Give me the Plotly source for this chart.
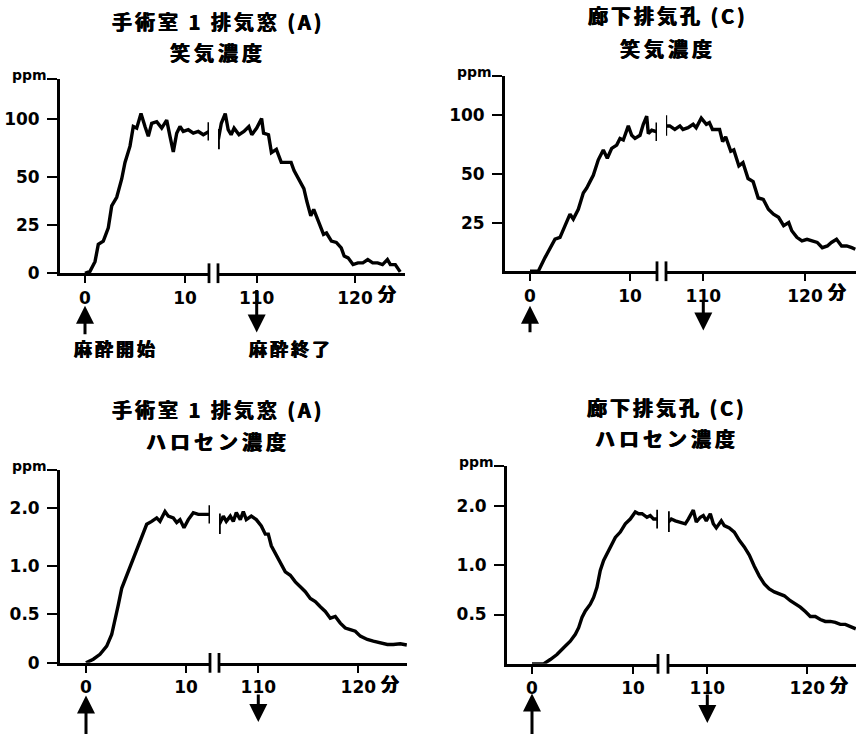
import numpy as np
import plotly.graph_objects as go

W, H = 856, 736

# ---------------- data (minutes, concentration) ----------------
# 手術室1排気窓(A) 笑気濃度 (ppm)
A_N2O_T1 = [0, 0.5, 1.0, 1.33, 1.83, 2.33, 2.67, 3.17, 3.67, 4.0, 4.5, 4.83, 5.17, 5.6, 6.0,
            6.33, 6.67, 7.17, 7.67, 8.17, 8.5, 8.83, 9.17, 9.5, 9.83, 10.33, 10.83, 11.33, 11.83, 12.4]
A_N2O_V1 = [0, 1, 6, 15, 16.7, 23.6, 35, 39.5, 49, 62.7, 76.8, 93.8, 92.4, 105, 93.8,
            85.3, 96.6, 98, 92.4, 99.4, 85.3, 71.8, 88, 93.8, 89.5, 91, 88, 89.5, 86.7, 89.5]
A_N2O_T2 = [106.1, 106.4, 106.8, 107.1, 107.4, 107.7, 108.2, 108.7, 109.2, 109.5, 110.0, 110.5,
            110.7, 111.2, 111.5, 112.0, 112.5, 113.0, 113.5, 113.8, 114.3, 114.8, 115.1, 115.5,
            115.8, 116.3, 116.8, 117.1, 117.6, 118.1, 118.6, 118.9, 119.3, 119.8, 120.3, 120.8,
            121.3, 121.8, 122.3, 122.8, 123.3, 123.6, 124.1, 124.6]
A_N2O_V2 = [82.5, 96.6, 105, 91, 86.7, 92.4, 86.7, 89.5, 93.8, 86.7, 92.4, 100.8,
            88, 86.7, 71.2, 74, 62.7, 62.7, 62.7, 55.7, 49, 44, 37.4, 29.9,
            33.2, 27, 20.2, 20.9, 16.7, 16, 13.2, 8.9, 8, 4.5, 5.4, 5.4,
            7.1, 5.4, 5.4, 4.5, 7.1, 4.5, 4.5, 0.7]

# 廊下排気孔(C) 笑気濃度 (ppm)
C_N2O_T1 = [0, 0.83, 1.5, 2.0, 2.5, 3.0, 3.5, 4.0, 4.33, 4.83, 5.33, 5.67, 6.0, 6.33, 6.83,
            7.33, 7.73, 8.17, 8.67, 9.0, 9.33, 9.83, 10.17, 10.5, 11.0, 11.33, 11.67, 11.83,
            12.17, 12.7]
C_N2O_V1 = [0, 0, 7, 12, 16.5, 17.4, 23.4, 29.3, 26.8, 31.8, 40.2, 42.7, 46, 49.3, 62,
            70.5, 63.4, 71.8, 74.6, 80.3, 79, 91, 83, 80.3, 83, 92.4, 99.4, 84.4,
            87.3, 86]
C_N2O_T2 = [106.3, 106.7, 107.2, 107.7, 108.0, 108.5, 109.0, 109.3, 109.8, 110.3, 110.6, 110.9,
            111.6, 111.9, 112.2, 112.7, 113.0, 113.5, 113.9, 114.4, 114.9, 115.4, 115.9, 116.4,
            116.9, 117.4, 117.9, 118.4, 118.7, 119.2, 119.7, 120.2, 120.7, 121.2, 121.7, 122.2,
            122.6, 123.1, 123.6, 124.1, 124.6, 124.95]
C_N2O_V2 = [91, 91, 88, 91, 88, 89.5, 92.4, 89.5, 97.7, 92.4, 93.8, 88,
            88, 77.5, 81.7, 69.3, 70.5, 56.8, 59.6, 47.6, 46, 37.6, 36.9, 31.8,
            29.3, 27.7, 23.4, 25, 20.8, 17.4, 15.6, 16.4, 15.6, 14.8, 12.1, 13,
            14.8, 16.4, 13, 13, 12.1, 11.3]

# 手術室1排気窓(A) ハロセン濃度 (ppm)
A_HAL_T1 = [0, 0.73, 1.4, 2.07, 2.57, 2.9, 3.23, 3.57, 4.07, 4.57, 5.07, 5.57, 6.07, 6.57,
            7.07, 7.4, 7.9, 8.23, 8.73, 9.07, 9.4, 9.8, 10.23, 10.73, 11.23, 11.73, 12.4]
A_HAL_V1 = [0, 0.038, 0.089, 0.173, 0.293, 0.43, 0.6, 0.77, 0.905, 1.068, 1.27, 1.52, 1.72, 1.77,
            1.83, 1.77, 1.94, 1.86, 1.83, 1.75, 1.8, 1.66, 1.8, 1.92, 1.89, 1.89, 1.89]
A_HAL_T2 = [106.1, 106.5, 106.8, 107.2, 107.5, 107.8, 108.2, 108.5, 108.8, 109.3, 109.8, 110.3,
            110.7, 111.0, 111.3, 111.8, 112.2, 112.7, 113.2, 113.7, 114.2, 114.7, 115.2, 115.7,
            116.2, 116.7, 117.2, 117.7, 118.2, 118.7, 119.2, 119.7, 120.2, 120.9, 121.5, 122.2,
            122.9, 123.5, 124.2, 124.85]
A_HAL_V2 = [1.72, 1.86, 1.77, 1.86, 1.77, 1.92, 1.8, 1.94, 1.8, 1.86, 1.8, 1.69,
            1.55, 1.55, 1.35, 1.18, 1.07, 0.94, 0.905, 0.837, 0.786, 0.735, 0.666, 0.633,
            0.58, 0.531, 0.462, 0.48, 0.411, 0.36, 0.343, 0.327, 0.276, 0.242, 0.224, 0.207,
            0.19, 0.19, 0.197, 0.185]

# 廊下排気孔(C) ハロセン濃度 (ppm)
C_HAL_T1 = [0, 1.15, 1.81, 2.47, 3.13, 3.79, 4.29, 4.62, 4.95, 5.28, 5.77, 6.1, 6.43, 6.76,
            7.09, 7.42, 7.75, 8.25, 8.74, 9.24, 9.73, 10.23, 10.56, 10.9, 11.38, 11.71, 12.04, 12.45]
C_HAL_V1 = [0, 0, 0.044, 0.095, 0.163, 0.23, 0.3, 0.367, 0.47, 0.537, 0.605, 0.673, 0.776, 0.946,
            1.08, 1.19, 1.33, 1.47, 1.56, 1.7, 1.78, 1.9, 1.87, 1.87, 1.81, 1.84, 1.78, 1.78]
C_HAL_T2 = [106.1, 106.4, 106.8, 107.3, 107.8, 108.1, 108.6, 108.9, 109.3, 109.6, 109.9, 110.3,
            110.6, 110.9, 111.4, 111.7, 112.2, 112.7, 113.2, 113.7, 114.2, 114.7, 115.2, 115.7,
            116.2, 116.7, 117.2, 117.7, 118.3, 118.8, 119.3, 119.8, 120.3, 120.8, 121.3, 121.8,
            122.3, 122.8, 123.3, 123.8, 124.3, 124.85]
C_HAL_V2 = [1.73, 1.78, 1.75, 1.73, 1.7, 1.78, 1.93, 1.73, 1.81, 1.84, 1.75, 1.87,
            1.7, 1.63, 1.75, 1.67, 1.63, 1.56, 1.42, 1.31, 1.17, 0.99, 0.89, 0.81,
            0.76, 0.73, 0.71, 0.69, 0.64, 0.61, 0.575, 0.53, 0.48, 0.48, 0.45, 0.43,
            0.43, 0.42, 0.40, 0.40, 0.38, 0.355]

# tick values / labels
N2O_TICKS = [0, 25, 50, 100]
N2O_TEXT = ["0", "25", "50", "100"]
HAL_TICKS = [0, 0.5, 1.0, 2.0]
HAL_TEXT = ["0", "0.5", "1.0", "2.0"]
X_LEFT_TICKS = [0, 10]
X_LEFT_TEXT = ["0", "10"]
X_RIGHT_TICKS = [110, 120]
X_RIGHT_TEXT = ["110", "120"]

TITLE_A = "手術室 1 排気窓 (A)"
TITLE_C = "廊下排気孔 (C)"
SUB_N2O = "笑気濃度"
SUB_HAL = "ハロセン濃度"
LABEL_START = "麻酔開始"
LABEL_END = "麻酔終了"

# non-linear detector scale of the original: tick positions on the axis
SCALE_POS = [0, 5, 10, 16]


def to_axis(vals, ticks):
    v = np.asarray(vals, float)
    out = np.interp(v, ticks, SCALE_POS)
    slope = (SCALE_POS[-1] - SCALE_POS[-2]) / (ticks[-1] - ticks[-2])
    hi = v > ticks[-1]
    out[hi] = SCALE_POS[-1] + (v[hi] - ticks[-1]) * slope
    return out


def px(x):
    return x / W


def py(y):
    return 1 - y / H


# panel geometry (pixels)
panels = [
    dict(t1=A_N2O_T1, v1=A_N2O_V1, t2=A_N2O_T2, v2=A_N2O_V2, ticks=N2O_TICKS, text=N2O_TEXT,
         show0=True, title=TITLE_A, sub=SUB_N2O, tcx=218, ty1=22, ty2=53,
         bottom=277, top=80, maxtick=121, L=(60, 209), x0=85, ppxL=10.0,
         R=(218, 405), x110=256.7, ppxR=9.83,
         up=(310, 340), down=(293, 337), labels=True),
    dict(t1=C_N2O_T1, v1=C_N2O_V1, t2=C_N2O_T2, v2=C_N2O_V2, ticks=N2O_TICKS, text=N2O_TEXT,
         show0=False, title=TITLE_C, sub=SUB_N2O, tcx=668, ty1=16, ty2=49,
         bottom=275, top=77, maxtick=117, L=(505, 657), x0=530, ppxL=10.0,
         R=(666, 856), x110=703.3, ppxR=10.17,
         up=(310, 338), down=(303, 335), labels=False),
    dict(t1=A_HAL_T1, v1=A_HAL_V1, t2=A_HAL_T2, v2=A_HAL_V2, ticks=HAL_TICKS, text=HAL_TEXT,
         show0=True, title=TITLE_A, sub=SUB_HAL, tcx=218, ty1=415, ty2=448,
         bottom=672, top=476, maxtick=515, L=(60, 210), x0=86, ppxL=10.0,
         R=(219, 407), x110=258.3, ppxR=10.0,
         up=(705, 745), down=(703, 732), labels=False),
    dict(t1=C_HAL_T1, v1=C_HAL_V1, t2=C_HAL_T2, v2=C_HAL_V2, ticks=HAL_TICKS, text=HAL_TEXT,
         show0=False, title=TITLE_C, sub=SUB_HAL, tcx=667, ty1=413, ty2=445,
         bottom=673, top=472, maxtick=513, L=(507, 658), x0=532, ppxL=10.1,
         R=(668, 856), x110=707.3, ppxR=10.0,
         up=(703, 745), down=(703, 733), labels=False),
]

HEAVY = "0.4px 0 0 #000, -0.4px 0 0 #000"
NUMFONT = dict(family="DejaVu Sans", size=17, color="black", weight="bold")
CJK = "Noto Sans CJK JP"
LINEW = 2.8

fig = go.Figure()
layout = {}
shapes = []
annotations = []


def ref(kind, i):
    return kind if i == 1 else f"{kind}{i}"


def spaced(s, sp=3):
    return f'<span style="letter-spacing:{sp}px">{s}</span>'


for i, p in enumerate(panels):
    xl, xr, yi = 2 * i + 1, 2 * i + 2, i + 1
    xlr, xrr, yr = ref("x", xl), ref("x", xr), ref("y", yi)

    unit = (p["bottom"] - p["maxtick"]) / SCALE_POS[-1]
    ytop = (p["bottom"] - p["top"]) / unit
    y1 = to_axis(p["v1"], p["ticks"])
    y2 = to_axis(p["v2"], p["ticks"])

    for t, yv, xa in ((p["t1"], y1, xlr), (p["t2"], y2, xrr)):
        fig.add_trace(go.Scatter(x=t, y=yv, mode="lines", xaxis=xa, yaxis=yr,
                                 line=dict(color="black", width=3.4), showlegend=False,
                                 hoverinfo="skip"))

    rngL = [(p["L"][0] - p["x0"]) / p["ppxL"], (p["L"][1] - p["x0"]) / p["ppxL"]]
    rngR = [110 + (p["R"][0] - p["x110"]) / p["ppxR"], 110 + (p["R"][1] - p["x110"]) / p["ppxR"]]

    common_x = dict(showline=True, linecolor="black", linewidth=LINEW, ticks="outside",
                    ticklen=7, tickwidth=2.2, tickcolor="black", showgrid=False, zeroline=False,
                    tickfont=NUMFONT, anchor=yr, fixedrange=True)
    layout["xaxis" if xl == 1 else f"xaxis{xl}"] = dict(
        common_x, domain=[px(p["L"][0]), px(p["L"][1])], range=rngL,
        tickvals=X_LEFT_TICKS, ticktext=X_LEFT_TEXT)
    layout[f"xaxis{xr}"] = dict(
        common_x, domain=[px(p["R"][0]), px(p["R"][1])], range=rngR,
        tickvals=X_RIGHT_TICKS, ticktext=X_RIGHT_TEXT)

    tv = list(to_axis(p["ticks"], p["ticks"]))
    tt = list(p["text"])
    if not p["show0"]:
        tv, tt = tv[1:], tt[1:]
    tv.append(ytop - 0.02)
    tt.append("")
    layout["yaxis" if yi == 1 else f"yaxis{yi}"] = dict(
        domain=[py(p["bottom"]), py(p["top"])], range=[0, ytop], anchor=xlr,
        showline=True, linecolor="black", linewidth=LINEW, ticks="outside", ticklen=10,
        tickwidth=2.2, tickcolor="black", showgrid=False, zeroline=False,
        tickvals=tv, ticktext=tt, tickfont=NUMFONT, ticklabelstandoff=4, fixedrange=True)

    # axis break marks
    ax_y = p["bottom"]
    for bx in (p["L"][1], p["R"][0]):
        shapes.append(dict(type="line", xref="paper", yref="paper", x0=px(bx), x1=px(bx),
                           y0=py(ax_y - 10), y1=py(ax_y + 10),
                           line=dict(color="black", width=2.8)))
    # curve break marks
    shapes.append(dict(type="line", xref=xlr, yref=yr, x0=p["t1"][-1], x1=p["t1"][-1],
                       y0=y1[-1] - 0.95, y1=y1[-1] + 0.95, line=dict(color="black", width=3)))
    shapes.append(dict(type="line", xref=xrr, yref=yr, x0=p["t2"][0], x1=p["t2"][0],
                       y0=y2[0] - 1.0, y1=y2[0] + 1.1, line=dict(color="black", width=3)))

    # titles
    tfont = dict(family=CJK, size=20, color="black", weight="bold", shadow=HEAVY)
    annotations.append(dict(text=spaced(p["title"], 3), x=px(p["tcx"]), y=py(p["ty1"]),
                            xref="paper", yref="paper", xanchor="center", yanchor="middle",
                            showarrow=False, font=tfont))
    annotations.append(dict(text=spaced(p["sub"], 4), x=px(p["tcx"]), y=py(p["ty2"]),
                            xref="paper", yref="paper", xanchor="center", yanchor="middle",
                            showarrow=False, font=tfont))
    # ppm unit
    annotations.append(dict(text="ppm", x=px(p["L"][0] - 11), y=py(p["top"] - 4),
                            xref="paper", yref="paper", xanchor="right", yanchor="middle",
                            showarrow=False,
                            font=dict(family="DejaVu Sans", size=14, color="black", weight="bold")))
    # 分
    annotations.append(dict(text="分", x=120, xref=xrr, xshift=32, xanchor="center",
                            y=py(ax_y + 20), yref="paper", yanchor="middle", showarrow=False,
                            font=dict(family=CJK, size=18, color="black", weight="bold",
                                      shadow=HEAVY)))
    # arrows
    hy, tyy = p["up"]
    annotations.append(dict(x=0, xref=xlr, y=py(hy), yref="paper", ax=0, ay=tyy - hy,
                            text="", showarrow=True, arrowhead=2, arrowsize=1.2,
                            arrowwidth=3, arrowcolor="black"))
    tyy, hy = p["down"]
    annotations.append(dict(x=110, xref=xrr, y=py(hy), yref="paper", ax=0, ay=tyy - hy,
                            text="", showarrow=True, arrowhead=2, arrowsize=1.2,
                            arrowwidth=3, arrowcolor="black"))
    if p["labels"]:
        lfont = dict(family=CJK, size=18, color="black", weight="bold", shadow=HEAVY)
        annotations.append(dict(text=spaced(LABEL_START, 3), x=px(72), y=py(353),
                                xref="paper", yref="paper", xanchor="left", yanchor="middle",
                                showarrow=False, font=lfont))
        annotations.append(dict(text=spaced(LABEL_END, 3), x=px(247), y=py(353),
                                xref="paper", yref="paper", xanchor="left", yanchor="middle",
                                showarrow=False, font=lfont))

fig.update_layout(**layout)
fig.update_layout(width=W, height=H, margin=dict(l=0, r=0, t=0, b=0),
                  paper_bgcolor="white", plot_bgcolor="white",
                  shapes=shapes, annotations=annotations, showlegend=False)
fig.write_html("out.html", config={"displayModeBar": False},
               post_script="document.body.style.margin='0';document.body.style.overflow='hidden';")
